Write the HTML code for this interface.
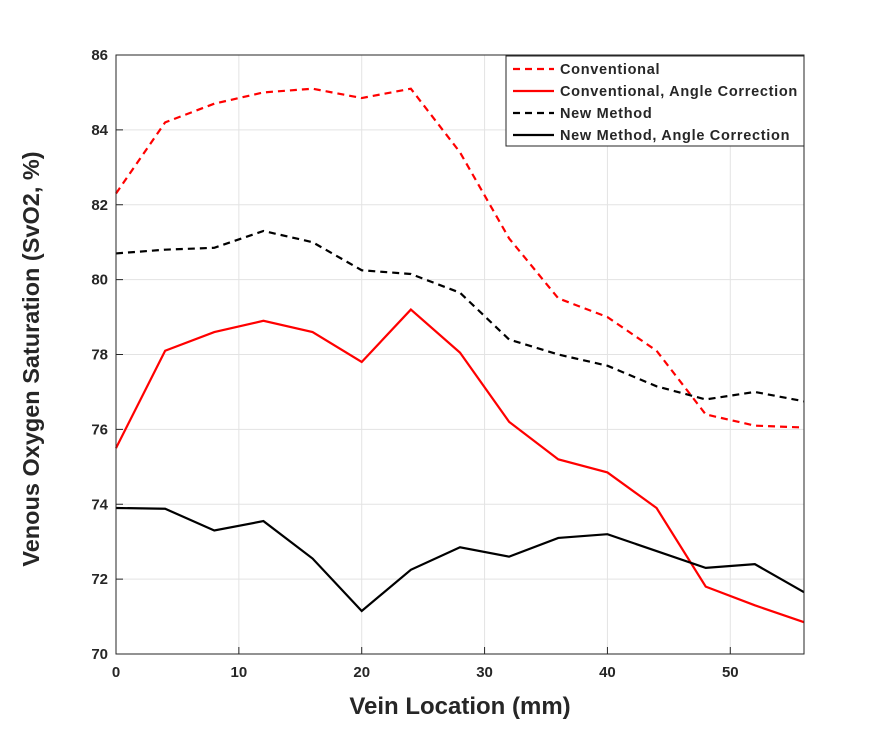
<!DOCTYPE html>
<html><head><meta charset="utf-8"><style>
body{margin:0;background:#fff}
svg text{font-family:"Liberation Sans",Arial,sans-serif;font-weight:bold;fill:#262626}
</style></head><body>
<svg id="chart" width="888" height="734" xmlns="http://www.w3.org/2000/svg">
<rect width="888" height="734" fill="#fff"/>
<g id="grid"></g><g id="series"></g><g id="axes"></g><g id="legend"></g>
</svg>
<script>
const xValues=[0,4,8,12,16,20,24,28,32,36,40,44,48,52,56];
const conventional=[82.3,84.2,84.7,85.0,85.1,84.85,85.1,83.4,81.1,79.5,79.0,78.1,76.4,76.1,76.05];
const conventionalAngle=[75.5,78.1,78.6,78.9,78.6,77.8,79.2,78.05,76.2,75.2,74.85,73.9,71.8,71.3,70.85];
const newMethod=[80.7,80.8,80.85,81.3,81.0,80.25,80.15,79.65,78.4,78.0,77.7,77.15,76.8,77.0,76.75];
const newMethodAngle=[73.9,73.88,73.3,73.55,72.55,71.15,72.25,72.85,72.6,73.1,73.2,72.75,72.3,72.4,71.65];
const xTicks=[0,10,20,30,40,50];
const yTicks=[70,72,74,76,78,80,82,84,86];
const seriesNames=["Conventional","Conventional, Angle Correction","New Method","New Method, Angle Correction"];

const L=116,R=804,T=55,B=654,xMin=0,xMax=56,yMin=70,yMax=86;
const sx=v=>L+(v-xMin)/(xMax-xMin)*(R-L);
const sy=v=>B-(v-yMin)/(yMax-yMin)*(B-T);
const NS="http://www.w3.org/2000/svg";
function mk(tag,attrs,parent){const e=document.createElementNS(NS,tag);for(const k in attrs)e.setAttribute(k,attrs[k]);parent.appendChild(e);return e;}
const grid=document.getElementById('grid'),axes=document.getElementById('axes'),ser=document.getElementById('series'),leg=document.getElementById('legend');
xTicks.forEach(t=>{
  const g=mk('line',{x1:sx(t),x2:sx(t),y1:T,y2:B,stroke:'#e3e3e3','stroke-width':1},grid);
  
  
  const tk=mk('line',{x1:sx(t),x2:sx(t),y1:B,y2:B-7,stroke:'#262626'},axes);
  
  
  const tx=mk('text',{x:sx(t),y:B+23,'text-anchor':'middle','font-size':15},axes);tx.textContent=t;
  
  
});
yTicks.forEach(t=>{
  const g=mk('line',{x1:L,x2:R,y1:sy(t),y2:sy(t),stroke:'#e3e3e3','stroke-width':1},grid);
  
  
  const tk=mk('line',{x1:L,x2:L+7,y1:sy(t),y2:sy(t),stroke:'#262626'},axes);
  
  
  const tx=mk('text',{x:L-8,y:sy(t)+5,'text-anchor':'end','font-size':15},axes);tx.textContent=t;
  
  
});
const box=mk('rect',{x:L,y:T,width:R-L,height:B-T,fill:'none',stroke:'#262626','stroke-width':1},axes);


const xt=mk('text',{x:(L+R)/2,y:714,'text-anchor':'middle','font-size':24},axes);xt.textContent='Vein Location (mm)';


const yt=mk('text',{x:0,y:0,'text-anchor':'middle','font-size':23.5,transform:`translate(39,359) rotate(-90)`},axes);yt.textContent='Venous Oxygen Saturation (SvO2, %)';


const data=[conventional,conventionalAngle,newMethod,newMethodAngle];
const colors=['#ff0000','#ff0000','#000000','#000000'];
const dashes=['7,5','none','7,5','none'];
const ids=['conventional-line','conventional-angle-line','new-method-line','new-method-angle-line'];
data.forEach((d,i)=>{
  const p=mk('polyline',{points:d.map((v,j)=>sx(xValues[j])+','+sy(v)).join(' '),fill:'none',stroke:colors[i],'stroke-width':2.2,'stroke-dasharray':dashes[i]},ser);
  
  
});
const lb=mk('rect',{x:506,y:56,width:298,height:90,fill:'#fff',stroke:'#262626','stroke-width':1},leg);


seriesNames.forEach((n,i)=>{
  const y=69+i*22;
  const l=mk('line',{x1:513,x2:554,y1:y,y2:y,stroke:colors[i],'stroke-width':2.2,'stroke-dasharray':dashes[i]},leg);
  
  
  const t=mk('text',{x:560,y:y+5,'font-size':14.5,'letter-spacing':0.7,fill:'#000'},leg);t.textContent=n;
  
  
});
</script>
</body></html>
